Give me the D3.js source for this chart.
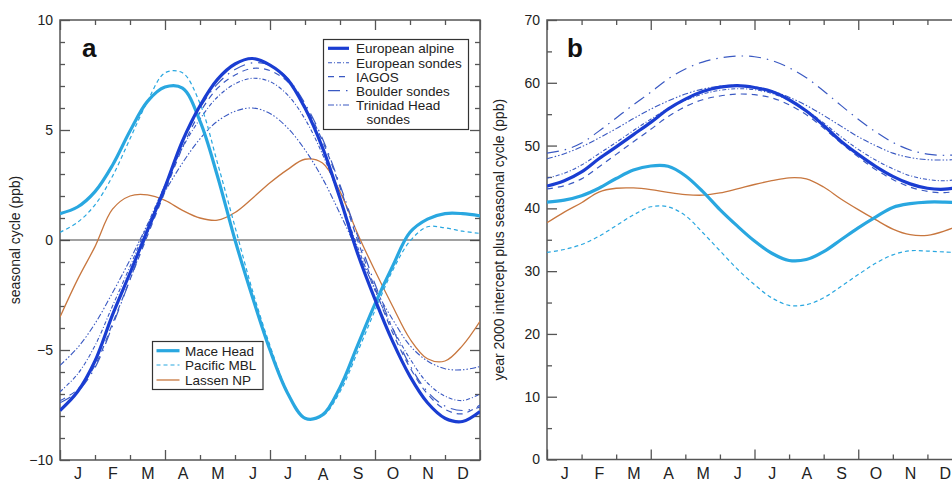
<!DOCTYPE html>
<html><head><meta charset="utf-8">
<script src="https://cdn.jsdelivr.net/npm/d3@7"></script>
<style>
body{margin:0;background:#fff;}
svg{display:block;font-family:"Liberation Sans",Arial,Helvetica,sans-serif;}
</style></head>
<body><svg id="c" width="952" height="482"></svg>
<script>
// ---- data ----
const monthLabels = ["J","F","M","A","M","J","J","A","S","O","N","D"];
const monthGrid = [0,0.5,1,1.5,2,2.5,3,3.5,4,4.5,5,5.5,6,6.5,7,7.5,8,8.5,9,9.5,10,10.5,11,11.5,12];
const yTicksA = [-10,-5,0,5,10];
const yTicksB = [0,10,20,30,40,50,60,70];

const europeanAlpine = [-7.75,-6.9,-5.5,-3.4,-1.5,0.45,2.4,4.5,6.1,7.3,8.0,8.25,7.95,7.3,6.0,4.2,1.9,-0.6,-2.7,-4.6,-6.2,-7.4,-8.1,-8.25,-7.8];
const europeanSondes = [-6.9,-6.1,-4.8,-3.0,-1.2,0.7,2.5,4.2,5.5,6.5,7.1,7.35,7.2,6.6,5.5,3.9,1.9,-0.3,-2.3,-4.0,-5.4,-6.5,-7.1,-7.3,-7.0];
const iagos = [-7.3,-6.8,-5.7,-3.8,-1.8,0.2,2.2,4.2,5.8,6.9,7.5,7.8,7.7,7.2,6.1,4.5,2.4,0.0,-2.2,-4.2,-5.8,-7.0,-7.7,-7.9,-7.5];
const boulderSondes = [-7.4,-6.9,-5.8,-3.9,-1.8,0.3,2.3,4.4,6.0,7.1,7.75,8.05,7.95,7.35,6.2,4.6,2.5,0.2,-2.0,-4.0,-5.7,-6.9,-7.55,-7.75,-7.6];
const trinidadHead = [-5.7,-4.9,-3.8,-2.4,-0.9,0.7,2.2,3.5,4.6,5.4,5.85,6.0,5.75,5.1,4.1,2.8,1.2,-0.5,-2.2,-3.6,-4.8,-5.5,-5.85,-5.9,-5.75];
const maceHead = [1.2,1.5,2.2,3.4,4.95,6.3,6.95,6.9,5.4,2.9,0.0,-2.6,-5.0,-6.95,-8.1,-7.95,-6.7,-4.8,-2.9,-1.2,0.35,0.95,1.2,1.2,1.1];
const pacificMBL = [0.35,0.8,1.6,2.9,4.6,6.3,7.6,7.6,6.2,3.5,0.6,-2.3,-4.8,-6.9,-8.1,-8.0,-6.9,-5.1,-3.2,-1.4,-0.05,0.6,0.55,0.4,0.3];
const lassenNP = [-3.5,-1.8,-0.3,1.4,2.0,2.05,1.8,1.35,1.0,0.9,1.25,1.9,2.6,3.2,3.67,3.5,2.2,0.3,-1.4,-3.0,-4.5,-5.4,-5.5,-4.8,-3.7];

const seriesNames = ["European alpine","European sondes","IAGOS","Boulder sondes","Trinidad Head sondes","Mace Head","Pacific MBL","Lassen NP"];
const intercept2000 = [51.3,51.7,50.4,56.2,53.6,39.8,32.65,41.2];

// ---- styles ----
const darkBlue = "#1a3dd2", thinBlue = "#3a59c2", lightBlue = "#29a7e0", orange = "#c8773f";
const styles = [
  {c:darkBlue, w:3.2, d:null},
  {c:thinBlue, w:1.1, d:"4,2,1,2"},
  {c:thinBlue, w:1.2, d:"6,5"},
  {c:thinBlue, w:1.2, d:"12,6,1.5,6"},
  {c:thinBlue, w:1.1, d:"6,2,1.5,2,1.5,2"},
  {c:lightBlue, w:3.2, d:null},
  {c:lightBlue, w:1.2, d:"4,3"},
  {c:orange, w:1.3, d:null}
];
const seriesData = [europeanAlpine,europeanSondes,iagos,boulderSondes,trinidadHead,maceHead,pacificMBL,lassenNP];
const drawOrder = [7,6,4,3,2,1,5,0];

const svg = d3.select("#c");
svg.append("rect").attr("width",952).attr("height",482).attr("fill","#fff");
const axisColor = "#555";
const font = "Liberation Sans, Arial, Helvetica, sans-serif";

function panel(opts){
  const {x0,x1,y0,y1,ydom,yMajor,yMinor,useIntercept,label,labelX,ytitle,ytitleX} = opts;
  const x = d3.scaleLinear().domain([0,12]).range([x0,x1]);
  const y = d3.scaleLinear().domain(ydom).range([y1,y0]);
  const g = svg.append("g");
  const monthBounds = d3.range(0,13);
  const majorM = monthBounds.filter(m=>m%3===0);
  const minorM = monthBounds.filter(m=>m%3!==0);
  function styleAxis(sel){
    sel.select(".domain").remove();
    sel.selectAll("line").attr("stroke",axisColor).attr("stroke-width",1.3);
    sel.selectAll("text").attr("fill","#222").attr("font-size",14).attr("font-family",font);
  }
  // y axes
  g.append("g").attr("transform",`translate(${x0},0)`).call(d3.axisLeft(y).tickValues(yMajor).tickSize(-10).tickPadding(7)).call(styleAxis);
  g.append("g").attr("transform",`translate(${x0},0)`).call(d3.axisLeft(y).tickValues(yMinor).tickSize(-5).tickFormat("")).call(styleAxis);
  g.append("g").attr("transform",`translate(${x1},0)`).call(d3.axisRight(y).tickValues(yMajor).tickSize(-10).tickFormat("")).call(styleAxis);
  g.append("g").attr("transform",`translate(${x1},0)`).call(d3.axisRight(y).tickValues(yMinor).tickSize(-5).tickFormat("")).call(styleAxis);
  // x axes
  g.append("g").attr("transform",`translate(0,${y1})`).call(d3.axisBottom(x).tickValues(majorM).tickSize(-10).tickFormat("")).call(styleAxis);
  g.append("g").attr("transform",`translate(0,${y1})`).call(d3.axisBottom(x).tickValues(minorM).tickSize(-5).tickFormat("")).call(styleAxis);
  g.append("g").attr("transform",`translate(0,${y0})`).call(d3.axisTop(x).tickValues(majorM).tickSize(-10).tickFormat("")).call(styleAxis);
  g.append("g").attr("transform",`translate(0,${y0})`).call(d3.axisTop(x).tickValues(minorM).tickSize(-5).tickFormat("")).call(styleAxis);
  // month labels
  const mAx = g.append("g").attr("transform",`translate(0,${y1})`)
    .call(d3.axisBottom(x).tickValues(monthLabels.map((_,i)=>i+0.5)).tickSize(0).tickPadding(8).tickFormat((d,i)=>monthLabels[i]))
    .call(styleAxis);
  mAx.selectAll("text").attr("font-size",16).attr("dy","0.71em");
  mAx.selectAll("text").filter((d,i)=>i===7).attr("font-size",16).attr("dy","0.74em");
  // frame
  g.append("rect").attr("x",x0).attr("y",y0).attr("width",x1-x0).attr("height",y1-y0)
    .attr("fill","none").attr("stroke",axisColor).attr("stroke-width",1.5);
  if(!useIntercept){
    g.append("line").attr("x1",x0).attr("x2",x1).attr("y1",y(0)).attr("y2",y(0)).attr("stroke","#444").attr("stroke-width",1.2);
  }
  // lines
  const clipId = "clip"+label;
  svg.append("clipPath").attr("id",clipId).append("rect").attr("x",x0).attr("y",y0).attr("width",x1-x0).attr("height",y1-y0);
  const lg = g.append("g").attr("clip-path",`url(#${clipId})`);
  drawOrder.forEach(k=>{
    const vals = seriesData[k].map(v=> useIntercept ? v + intercept2000[k] : v);
    const line = d3.line().x((d,i)=>x(monthGrid[i])).y(d=>y(d)).curve(d3.curveCatmullRom.alpha(0.5));
    const s = styles[k];
    lg.append("path").datum(vals).attr("d",line).attr("fill","none")
      .attr("stroke",s.c).attr("stroke-width",s.w).attr("stroke-dasharray",s.d)
      .attr("stroke-linejoin","round");
  });
  // panel label
  g.append("text").attr("x",labelX).attr("y",57).attr("font-size",26).attr("font-weight","bold")
    .attr("font-family",font).attr("fill","#111").text(label);
  // y title
  g.append("text").attr("transform",`translate(${ytitleX},${(y0+y1)/2}) rotate(-90)`)
    .attr("text-anchor","middle").attr("font-size",14).attr("font-family",font).attr("fill","#222").text(ytitle);
  return {x,y};
}

panel({x0:60,x1:480,y0:20,y1:460,ydom:[-10,10],yMajor:yTicksA,yMinor:d3.range(-9,10).filter(v=>v%5!==0),
  useIntercept:false,label:"a",labelX:82,ytitle:"seasonal cycle (ppb)",ytitleX:20});
panel({x0:547,x1:962,y0:20,y1:459.5,ydom:[0,70],yMajor:yTicksB,yMinor:[5,15,25,35,45,55,65],
  useIntercept:true,label:"b",labelX:567,ytitle:"year 2000 intercept plus seasonal cycle (ppb)",ytitleX:504});

// legends
const legFont = 13.5;
function legend(bx,by,bw,bh,items,sampleX0,sampleX1,textX){
  const g = svg.append("g");
  g.append("rect").attr("x",bx).attr("y",by).attr("width",bw).attr("height",bh)
    .attr("fill","#fff").attr("stroke","#333").attr("stroke-width",1.2);
  items.forEach(it=>{
    const s = styles[it.k];
    g.append("line").attr("x1",sampleX0).attr("x2",sampleX1).attr("y1",it.y).attr("y2",it.y)
      .attr("stroke",s.c).attr("stroke-width",s.w).attr("stroke-dasharray",s.d);
    g.append("text").attr("x",textX).attr("y",it.y+5).attr("font-size",legFont).attr("font-family",font)
      .attr("fill","#222").text(it.t);
  });
  return g;
}
const lg1 = legend(323.5,39.5,145,90,[
  {k:0,y:48.3,t:seriesNames[0]},{k:1,y:62.7,t:seriesNames[1]},{k:2,y:76.7,t:seriesNames[2]},
  {k:3,y:90.7,t:seriesNames[3]},{k:4,y:105,t:"Trinidad Head"}],328,349,356);
lg1.append("text").attr("x",366.5).attr("y",124).attr("font-size",legFont).attr("font-family",font).attr("fill","#222").text("sondes");
legend(152.5,341.5,110.5,48,[
  {k:5,y:350.7,t:seriesNames[5]},{k:6,y:365,t:seriesNames[6]},{k:7,y:380,t:seriesNames[7]}],156.5,179.5,185);
</script></body></html>
